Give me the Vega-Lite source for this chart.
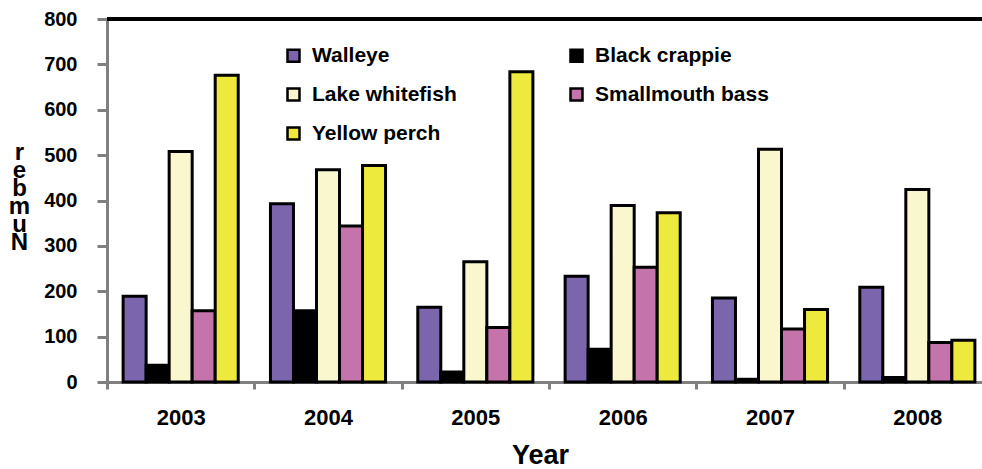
{
  "$schema": "https://vega.github.io/schema/vega-lite/v6.json",
  "width": 875,
  "height": 363,
  "autosize": {"type": "none"},
  "padding": {"left": 107, "top": 19, "right": 0, "bottom": 87},
  "background": "white",
  "config": {"view": {"stroke": null}, "font": "Liberation Sans"},
  "data": {
    "values": [
      {"Year": "2003", "Species": "Walleye", "Number": 189},
      {"Year": "2003", "Species": "Black crappie", "Number": 37},
      {"Year": "2003", "Species": "Lake whitefish", "Number": 508},
      {"Year": "2003", "Species": "Smallmouth bass", "Number": 157},
      {"Year": "2003", "Species": "Yellow perch", "Number": 676},
      {"Year": "2004", "Species": "Walleye", "Number": 393},
      {"Year": "2004", "Species": "Black crappie", "Number": 157},
      {"Year": "2004", "Species": "Lake whitefish", "Number": 468},
      {"Year": "2004", "Species": "Smallmouth bass", "Number": 344},
      {"Year": "2004", "Species": "Yellow perch", "Number": 477},
      {"Year": "2005", "Species": "Walleye", "Number": 165},
      {"Year": "2005", "Species": "Black crappie", "Number": 22},
      {"Year": "2005", "Species": "Lake whitefish", "Number": 265},
      {"Year": "2005", "Species": "Smallmouth bass", "Number": 120},
      {"Year": "2005", "Species": "Yellow perch", "Number": 684},
      {"Year": "2006", "Species": "Walleye", "Number": 233},
      {"Year": "2006", "Species": "Black crappie", "Number": 72},
      {"Year": "2006", "Species": "Lake whitefish", "Number": 389},
      {"Year": "2006", "Species": "Smallmouth bass", "Number": 253},
      {"Year": "2006", "Species": "Yellow perch", "Number": 373},
      {"Year": "2007", "Species": "Walleye", "Number": 185},
      {"Year": "2007", "Species": "Black crappie", "Number": 6},
      {"Year": "2007", "Species": "Lake whitefish", "Number": 513},
      {"Year": "2007", "Species": "Smallmouth bass", "Number": 117},
      {"Year": "2007", "Species": "Yellow perch", "Number": 160},
      {"Year": "2008", "Species": "Walleye", "Number": 209},
      {"Year": "2008", "Species": "Black crappie", "Number": 10},
      {"Year": "2008", "Species": "Lake whitefish", "Number": 424},
      {"Year": "2008", "Species": "Smallmouth bass", "Number": 87},
      {"Year": "2008", "Species": "Yellow perch", "Number": 92}
    ]
  },
  "layer": [
    {
      "mark": {"type": "bar", "stroke": "black", "strokeWidth": 3, "strokeOpacity": 1},
      "encoding": {
        "x": {
          "field": "Year",
          "type": "nominal",
          "scale": {"range": [0, 884], "paddingInner": 0, "paddingOuter": 0},
          "axis": {
            "title": "Year",
            "titleFontSize": 27,
            "titleFontWeight": "bold",
            "titleColor": "black",
            "titleX": 433,
            "titlePadding": 14,
            "labelAngle": 0,
            "labelFontSize": 22,
            "labelFontWeight": "bold",
            "labelColor": "black",
            "labelPadding": 18,
            "tickBand": "extent",
            "tickSize": 7,
            "tickColor": "#808080",
            "tickWidth": 3,
            "domainColor": "#808080",
            "domainWidth": 3,
            "grid": false
          }
        },
        "xOffset": {
          "field": "Species",
          "type": "nominal",
          "sort": ["Walleye", "Black crappie", "Lake whitefish", "Smallmouth bass", "Yellow perch"],
          "scale": {"paddingInner": 0, "paddingOuter": 0.7}
        },
        "y": {
          "field": "Number",
          "type": "quantitative",
          "scale": {"domain": [0, 800]},
          "axis": {
            "title": ["r", "e", "b", "m", "u", "N"],
            "titleAngle": 0,
            "titleFontSize": 24,
            "titleFontWeight": "bold",
            "titleColor": "black",
            "titleLineHeight": 18,
            "titleX": -88,
            "titleY": 121,
            "titleBaseline": "top",
            "titleAlign": "center",
            "values": [0, 100, 200, 300, 400, 500, 600, 700, 800],
            "labelFontSize": 20,
            "labelFontWeight": "bold",
            "labelColor": "black",
            "labelPadding": 20,
            "tickSize": 10,
            "tickColor": "#808080",
            "tickWidth": 3,
            "domainColor": "#808080",
            "domainWidth": 3,
            "grid": false
          }
        },
        "fill": {
          "field": "Species",
          "type": "nominal",
          "scale": {
            "domain": ["Walleye", "Black crappie", "Lake whitefish", "Smallmouth bass", "Yellow perch"],
            "range": ["#7B66AD", "#000000", "#FAF7CF", "#C574AB", "#EEEA3D"]
          },
          "legend": {
            "orient": "none",
            "direction": "horizontal",
            "legendX": 176,
            "legendY": 26,
            "columns": 2,
            "title": null,
            "symbolType": "square",
            "symbolSize": 144,
            "symbolStrokeColor": "black",
            "symbolStrokeWidth": 2.5,
            "labelFontSize": 21,
            "labelFontWeight": "bold",
            "labelColor": "black",
            "labelOffset": 8,
            "rowPadding": 16,
            "columnPadding": 108,
            "labelLimit": 400
          }
        }
      }
    },
    {
      "mark": {"type": "rule", "color": "black", "strokeWidth": 3},
      "encoding": {"y": {"datum": 800}}
    }
  ]
}
